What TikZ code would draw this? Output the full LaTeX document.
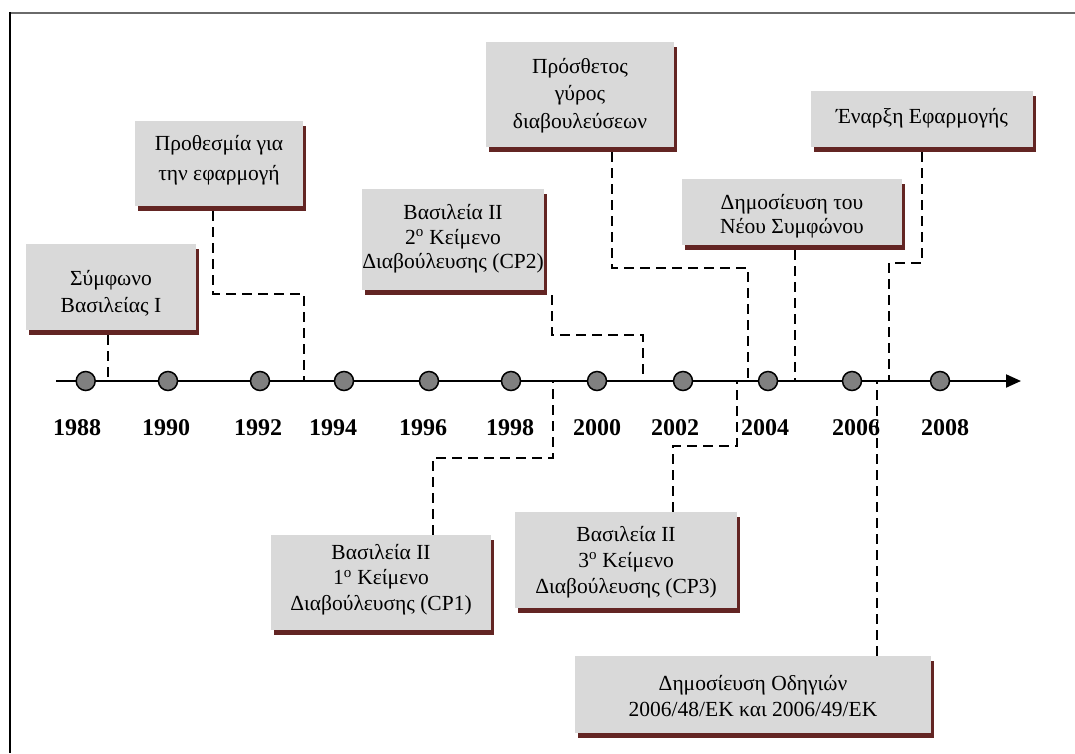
\documentclass[tikz,border=0pt]{standalone}
\usepackage{fontspec}
\setmainfont{Liberation Serif}
\usetikzlibrary{arrows.meta,shadows}
\definecolor{boxgray}{HTML}{D9D9D9}
\definecolor{shadowred}{HTML}{632523}
\definecolor{dotgray}{HTML}{808080}
\definecolor{framegray}{HTML}{6A6A6A}

% centred lines of box text: #1 = raise of the first baseline above the
% box centre, #2 = distance between baselines, #3 = the lines
\newcommand\boxlines[3]{%
  \fontsize{21.5}{#2}\selectfont
  \raisebox{#1}[0pt][0pt]{\begin{tabular}[t]{@{}c@{}}#3\end{tabular}}}

\begin{document}
\begin{tikzpicture}[x=1pt,y=-1pt,
  event/.style={fill=boxgray, inner sep=0pt, align=center,
    drop shadow={shadow xshift=3pt, shadow yshift=-5pt, fill=shadowred, opacity=1}},
  year/.style={font=\fontsize{24}{28}\selectfont\bfseries, inner sep=0pt},
  dot/.style={circle, draw=black, line width=1.5pt, fill=dotgray, minimum size=19pt, inner sep=0pt},
  conn/.style={line width=2pt, dash pattern=on 10pt off 6pt},
  axis/.style={line width=2pt, -{Triangle[length=15pt,width=13pt]}}]

\useasboundingbox (0,0) rectangle (1075,753);

% frame
\draw[framegray, line width=2pt] (9,13) -- (1075,13);
\draw[black, line width=2pt] (10,12) -- (10,753);

% event boxes above the axis
\node[event, minimum width=170pt, minimum height=86pt] (symf) at (111,287)
  {\boxlines{2pt}{27pt}{Σύμφωνο\\Βασιλείας Ι}};
\node[event, minimum width=168pt, minimum height=85pt] (proth) at (219,163.5)
  {\boxlines{12.8pt}{29.5pt}{Προθεσμία για\\την εφαρμογή}};
\node[event, minimum width=174pt, minimum height=101pt] (cp2) at (453,239.5)
  {\boxlines{20pt}{24.5pt}{Βασιλεία ΙΙ\\2\textsuperscript{o} Κείμενο\\Διαβούλευσης (CP2)}};
\node[event, minimum width=188pt, minimum height=105pt] (prost) at (580,94.5)
  {\boxlines{21.5pt}{27.5pt}{Πρόσθετος\\γύρος\\διαβουλεύσεων}};
\node[event, minimum width=220pt, minimum height=66pt] (dimos) at (792,212)
  {\boxlines{3pt}{24pt}{Δημοσίευση του\\Νέου Συμφώνου}};
\node[event, minimum width=222pt, minimum height=56pt] (enarxi) at (922,119)
  {\boxlines{-4pt}{26pt}{Έναρξη Εφαρμογής}};

% event boxes below the axis
\node[event, minimum width=220pt, minimum height=95pt] (cp1) at (381,582.5)
  {\boxlines{23.2pt}{25.5pt}{Βασιλεία ΙΙ\\1\textsuperscript{o} Κείμενο\\Διαβούλευσης (CP1)}};
\node[event, minimum width=222pt, minimum height=96pt] (cp3) at (626,560)
  {\boxlines{19pt}{26pt}{Βασιλεία ΙΙ\\3\textsuperscript{o} Κείμενο\\Διαβούλευσης (CP3)}};
\node[event, minimum width=356pt, minimum height=77pt] (odig) at (753,694.5)
  {\boxlines{4.5pt}{26pt}{Δημοσίευση Οδηγιών\\2006/48/ΕΚ και 2006/49/ΕΚ}};

% points on the axis where the events fall
\coordinate (t1) at (108,381);
\coordinate (t2) at (304,381);
\coordinate (t3) at (643,381);
\coordinate (t4) at (748,381);
\coordinate (t5) at (795,381);
\coordinate (t6) at (889,381);
\coordinate (t7) at (553,381);
\coordinate (t8) at (737,381);
\coordinate (t9) at (877,381);

% bends of the leader lines
\coordinate (k2) at (213,294);
\coordinate (k3) at (552,335);
\coordinate (k4) at (612,268);
\coordinate (k6) at (922,263);
\coordinate (k7) at (433,458);
\coordinate (k8) at (673,446);

% leader lines
\draw[conn] ([yshift=-5pt]symf.south -| t1) -- (t1);
\draw[conn] ([yshift=-5pt]proth.south -| k2) -- (k2) -| (t2);
\draw[conn] ([yshift=-5pt]cp2.south -| k3) -- (k3) -| (t3);
\draw[conn] ([yshift=-5pt]prost.south -| k4) -- (k4) -| (t4);
\draw[conn] ([yshift=-5pt]dimos.south -| t5) -- (t5);
\draw[conn] ([yshift=-5pt]enarxi.south -| k6) -- (k6) -| (t6);
\draw[conn] (cp1.north -| k7) -- (k7) -| (t7);
\draw[conn] (cp3.north -| k8) -- (k8) -| (t8);
\draw[conn] (odig.north -| t9) -- (t9);

% time axis
\coordinate (a0) at (56,381);
\coordinate (a1) at (1021,381);
\draw[axis] (a0) -- (a1);

% years
\foreach \yr/\dx/\lx in {1988/85.7/77, 1990/168/166, 1992/260/258, 1994/344/333,
  1996/429/423, 1998/511/510, 2000/597/597, 2002/683/675, 2004/768/765,
  2006/852/856, 2008/940/945}{
  \node[dot] (d\yr) at (\dx,381) {};
  \node[year] (y\yr) at (\lx,428) {\yr};
}
\end{tikzpicture}
\end{document}
